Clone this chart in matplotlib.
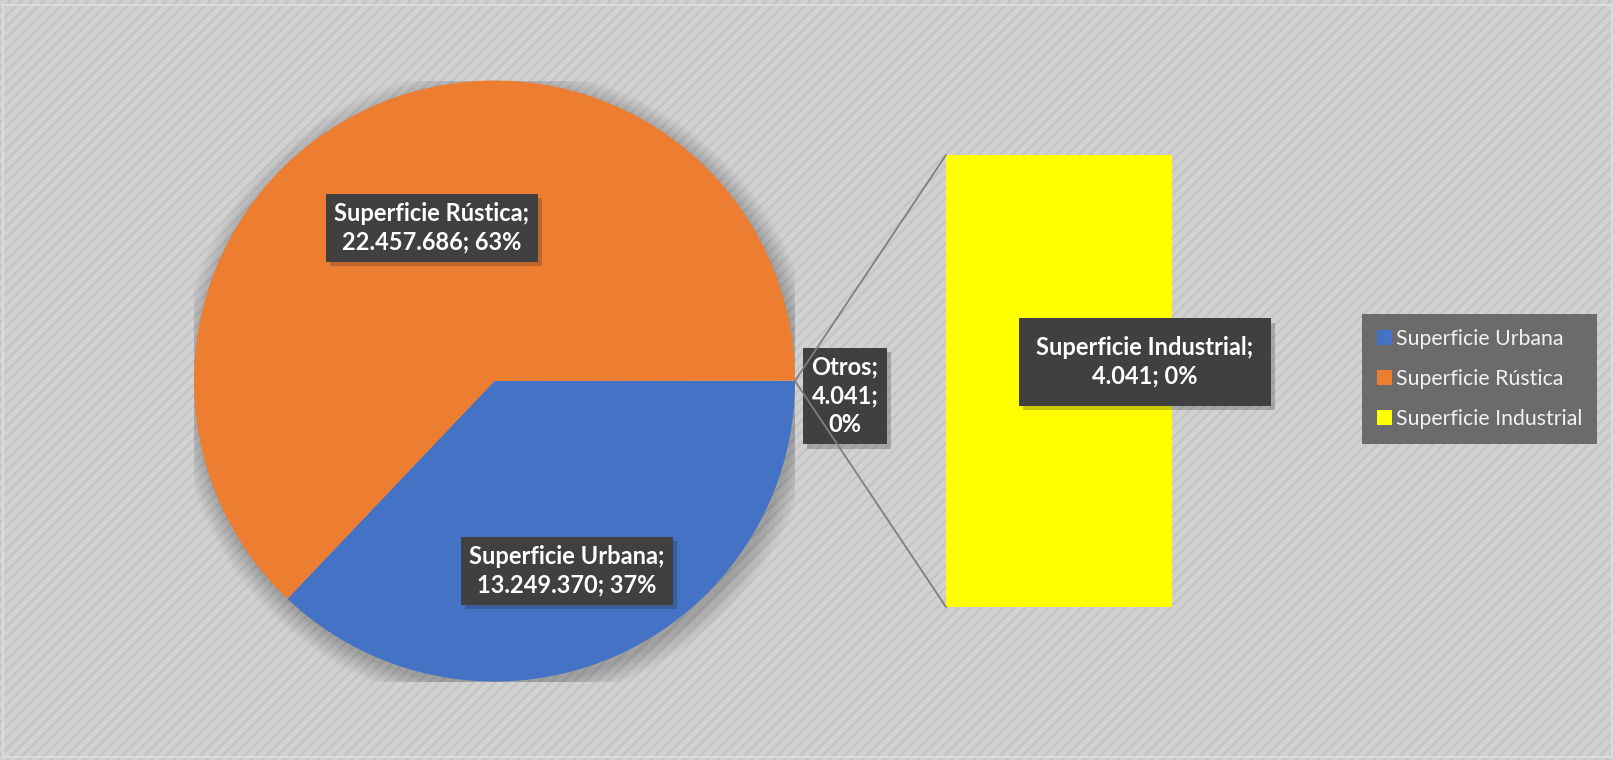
import numpy as np
import matplotlib.pyplot as plt
import matplotlib.patheffects as pe
from matplotlib.patches import Rectangle, Circle, Patch, ConnectionPatch

# Data
categorias = ["Superficie Urbana", "Superficie Rústica", "Superficie Industrial"]
valores = [13249370, 22457686, 4041]
textos = ["13.249.370", "22.457.686", "4.041"]
porcentajes = ["37%", "63%", "0%"]
colores = ["#4472C4", "#ED7D31", "#FFFF00"]

W, H = 1615, 760
fig = plt.figure(figsize=(W / 100, H / 100), dpi=100)
fig.patch.set_facecolor("#d1d1d1")

plt.rcParams["hatch.linewidth"] = 1.6
plt.rcParams["hatch.color"] = "#c4c4c4"

# striped background
bg = Rectangle((0, 0), 1, 1, transform=fig.transFigure, facecolor="#d1d1d1",
               edgecolor="#c4c4c4", hatch="///", linewidth=0, zorder=-10)
fig.patches.append(bg)
border = Rectangle((0.002, 0.004), 0.996, 0.99, transform=fig.transFigure, fill=False,
                   edgecolor="#dcdcdc", linewidth=1.5, zorder=-9)
fig.patches.append(border)


def box(x0, y0, x1, y1):
    return [x0 / W, 1 - y1 / H, (x1 - x0) / W, (y1 - y0) / H]


# pie (Urbana, Rústica, Otros)
ax = fig.add_axes(box(194, 80, 795, 682))
ax.axis("off")
pie_vals = [valores[0], valores[1], valores[2]]
for k in range(12):
    ax.add_patch(Circle((0.01, -0.02), 1 + 0.006 * k, color="black", alpha=0.018, zorder=0, lw=0))
wedges, _ = ax.pie(pie_vals, colors=[colores[0], colores[1], "#d1d1d1"], startangle=0,
                   counterclock=False, radius=1, wedgeprops=dict(linewidth=0))
ax.set_xlim(-1, 1)
ax.set_ylim(-1, 1)

# bar of secondary slice
axb = fig.add_axes(box(946, 155, 1172, 607))
axb.axis("off")
for k in range(8):
    axb.add_patch(Rectangle((-0.5 + 0.004 * k, -valores[2] * 0.005 * k), 1, valores[2],
                            color="black", alpha=0.03, lw=0, zorder=0))
axb.bar([0], [valores[2]], width=1, color=colores[2], zorder=2)
axb.set_xlim(-0.5, 0.5)
axb.set_ylim(0, valores[2])

# connector lines
otros = wedges[2]
a1, a2 = np.deg2rad(otros.theta1), np.deg2rad(otros.theta2)
for ang, yb in [(a2, 1), (a1, 0)]:
    con = ConnectionPatch(xyA=(np.cos(ang), np.sin(ang)), coordsA=ax.transData,
                          xyB=(0, yb), coordsB=axb.transAxes, color="#7f7f7f", lw=1.3)
    fig.add_artist(con)

font = "Lato"


def etiqueta(axx, x, y, s, trans, pad=0.35):
    t = axx.text(x, y, s, transform=trans, ha="center", va="center", color="white",
                 fontsize=17, fontweight="bold", family=font, linespacing=1.3, zorder=10,
                 bbox=dict(boxstyle=f"square,pad={pad}", fc="#404040", ec="none"))
    t.get_bbox_patch().set_path_effects([pe.withSimplePatchShadow(offset=(3, -3), alpha=0.22),
                                         pe.Normal()])
    return t


etiqueta(ax, -0.208, 0.509, f"{categorias[1]};\n{textos[1]}; {porcentajes[1]}", ax.transData)
etiqueta(ax, 0.241, -0.632, f"{categorias[0]};\n{textos[0]}; {porcentajes[0]}", ax.transData)
etiqueta(ax, 1.166, -0.05, f"Otros;\n{textos[2]};\n{porcentajes[2]}", ax.transData)
etiqueta(axb, 0.88, 0.542, f"{categorias[2]};\n{textos[2]}; {porcentajes[2]}", axb.transAxes,
         pad=0.75)

# legend
handles = [Patch(facecolor=c, edgecolor="none") for c in colores]
leg = fig.legend(handles, categorias, loc="upper left", bbox_to_anchor=(1362 / W, 1 - 314 / H),
                 frameon=True, fancybox=False, facecolor="#6b6b6b", edgecolor="none", framealpha=1,
                 handlelength=0.7, handleheight=0.7, handletextpad=0.2, labelspacing=0.95,
                 borderpad=0.7, borderaxespad=0, prop=dict(family=font, size=15.3))
for txt in leg.get_texts():
    txt.set_color("#f2f2f2")

fig.savefig("out.png", dpi=100, facecolor=fig.get_facecolor())
